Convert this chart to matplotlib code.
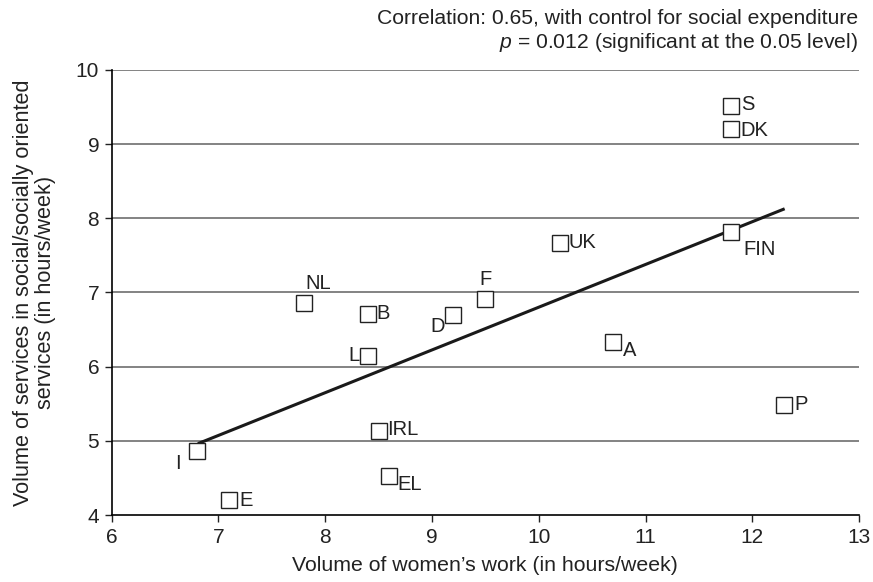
import numpy as np
import matplotlib
matplotlib.use('Agg')
import matplotlib.pyplot as plt
from matplotlib import rcParams

# 数据
countries = ['S', 'DK', 'FIN', 'UK', 'F', 'NL', 'B', 'D', 'L', 'A', 'P', 'IRL', 'I', 'EL', 'E']
womens_work = [11.8, 11.8, 11.8, 10.2, 9.5, 7.8, 8.4, 9.2, 8.4, 10.7, 12.3, 8.5, 6.8, 8.6, 7.1]
services = [9.51, 9.2, 7.81, 7.67, 6.91, 6.86, 6.71, 6.69, 6.15, 6.33, 5.49, 5.13, 4.87, 4.53, 4.2]
# 回归线端点
fit_x = [6.82, 12.29]
fit_y = [4.97, 8.12]

# 标签偏移 (points)
offsets = {
    'S': (7, 1, 'left', 'center'), 'DK': (7, -1, 'left', 'center'),
    'FIN': (9, -12, 'left', 'center'), 'UK': (6, 0, 'left', 'center'),
    'F': (0, 14, 'center', 'center'), 'NL': (10, 14, 'center', 'center'),
    'B': (6, 0, 'left', 'center'), 'D': (-6, -8, 'right', 'center'),
    'L': (-6, 0, 'right', 'center'), 'A': (7, -6, 'left', 'center'),
    'P': (7, 0, 'left', 'center'), 'IRL': (6, 1, 'left', 'center'),
    'I': (-12, -9, 'right', 'center'), 'EL': (6, -6, 'left', 'center'),
    'E': (7, 0, 'left', 'center'),
}

config = {
    "font.family": ['Liberation Sans', 'DejaVu Sans'],
    "font.size": 15,
    "mathtext.fontset": 'custom',
    "mathtext.it": 'Liberation Sans:italic',
    "mathtext.rm": 'Liberation Sans',
}
rcParams.update(config)

fig = plt.figure(figsize=(8.73, 5.82), dpi=100)
ax = fig.add_axes([0.128, 0.115, 0.856, 0.765])

for yv in range(5, 11):
    ax.axhline(yv, color='#7a7a7a', linewidth=1.3, zorder=1)

ax.plot(fit_x, fit_y, color='#1a1a1a', linewidth=2.2, zorder=2)
ax.plot(womens_work, services, 's', markersize=11, markerfacecolor='white',
        markeredgecolor='#222222', markeredgewidth=1.0, linestyle='none', zorder=3)

for c, x, y in zip(countries, womens_work, services):
    dx, dy, ha, va = offsets[c]
    ax.annotate(c, (x, y), xytext=(dx, dy), textcoords='offset points',
                ha=ha, va=va, fontsize=14.5, color='#222222')

ax.set_xlim(6, 13)
ax.set_ylim(4, 10)
ax.set_xticks(range(6, 14))
ax.set_yticks(range(4, 11))
ax.spines['top'].set_visible(False)
ax.spines['right'].set_visible(False)
ax.spines['left'].set_linewidth(1.2)
ax.spines['bottom'].set_linewidth(1.2)
ax.tick_params(direction='out', length=5, width=1, labelsize=15, colors='#222222', pad=4)

ax.set_xlabel('Volume of women\u2019s work (in hours/week)', fontsize=15.3, color='#222222', labelpad=7)
ax.set_ylabel('Volume of services in social/socially oriented\nservices (in hours/week)',
              fontsize=15.6, color='#222222', labelpad=14, linespacing=1.1)

fig.text(0.983, 0.969, 'Correlation: 0.65, with control for social expenditure',
         ha='right', va='center', fontsize=15.2, color='#222222')
fig.text(0.983, 0.927, r'$p$ = 0.012 (significant at the 0.05 level)',
         ha='right', va='center', fontsize=15.2, color='#222222')

plt.savefig('out.png', dpi=100)
